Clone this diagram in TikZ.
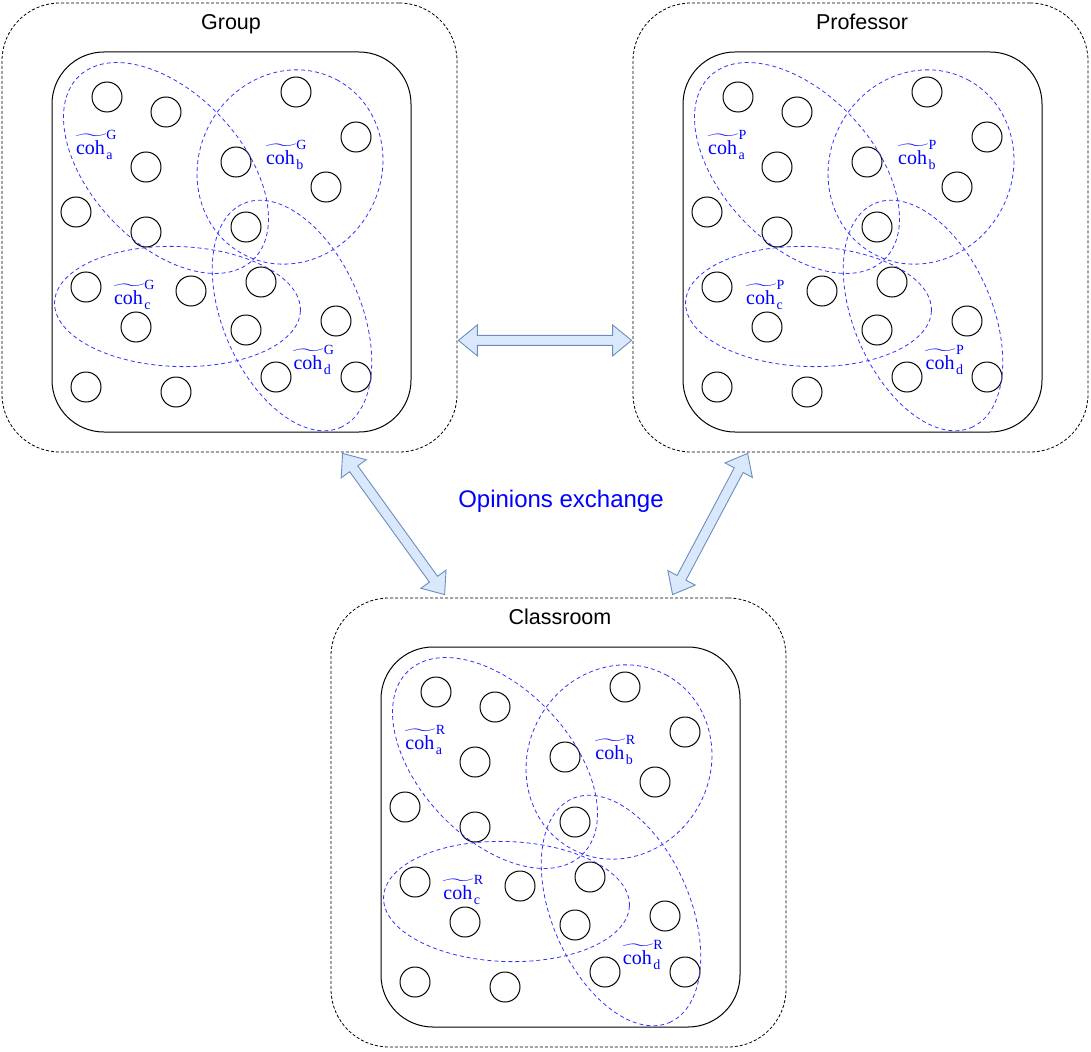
\RequirePackage{fix-cm}
\documentclass[tikz,border=0pt]{standalone}
\usepackage{amsmath}
\usepackage{fontspec}
\setmainfont{Liberation Serif}
\setsansfont{Liberation Sans}
\usetikzlibrary{calc}

\definecolor{cohblue}{rgb}{0.2,0.2,1}
\definecolor{swapfill}{HTML}{DAE8FC}
\definecolor{swapline}{HTML}{6C8EBF}

\tikzset{
    panel/.style={draw, dash pattern=on 3pt off 2pt, line width=0.8pt, rounded corners=58pt,
        minimum width=455pt, minimum height=449pt, inner sep=0pt},
    inbox/.style={draw, line width=1pt, rounded corners=52pt,
        minimum width=359pt, minimum height=380pt, inner sep=0pt},
    paneltitle/.style={font=\sffamily\fontsize{21.5}{26}\selectfont, anchor=base, inner sep=0pt},
    stud/.style={draw, line width=1pt},
    cohring/.style={draw=cohblue, line width=0.8pt, dash pattern=on 4pt off 3pt},
    cohlabel/.style={text=blue, font=\fontsize{20}{24}\selectfont, inner sep=0pt},
    swap/.style={fill=swapfill, draw=swapline, line width=0.9pt, line join=miter}
}

\newcommand\stud[2]{
    \draw[stud] (#1,-#2) circle (15pt);
}
\newcommand\cohset[5]{
    \draw[cohring, shift={(#1,-#2)}, rotate=#5] (0,0) ellipse [x radius=#3pt, y radius=#4pt];
}
\newcommand\cohtext[2]{$\widetilde{\text{coh\kern1.5pt}}^{\hbox{\fontsize{14}{14}\selectfont #1}}_{\hbox{\fontsize{14}{14}\selectfont #2}}$}
\newcommand\swaparrow[2]{
    \filldraw[swap]
        (#1) -- ($(#1)!19pt!(#2)!15.5pt!90:(#2)$)
        -- ($(#1)!19pt!(#2)!5pt!90:(#2)$)
        -- ($(#2)!19pt!(#1)!5pt!-90:(#1)$)
        -- ($(#2)!19pt!(#1)!15.5pt!-90:(#1)$)
        -- (#2)
        -- ($(#2)!19pt!(#1)!15.5pt!90:(#1)$)
        -- ($(#2)!19pt!(#1)!5pt!90:(#1)$)
        -- ($(#1)!19pt!(#2)!5pt!-90:(#2)$)
        -- ($(#1)!19pt!(#2)!15.5pt!-90:(#2)$)
        -- cycle;
}
% shift x, shift y, name, title, letter
\newcommand\cohpanel[5]{
    \begin{scope}[shift={(#1,-#2)}]
    \node[panel] (#3) at (229.5,-227.5) {};
    \node[paneltitle] (#3-title) at (231,-29.5) {#4};
    \node[inbox] (#3-in) at (231.5,-242) {};

    \stud{107}{97}
    \stud{166}{112}
    \stud{296}{92}
    \stud{356}{137}
    \stud{146}{167}
    \stud{236}{162}
    \stud{326}{187}
    \stud{76}{212}
    \stud{146}{232}
    \stud{246}{227}
    \stud{86}{287}
    \stud{191}{291}
    \stud{261}{282}
    \stud{136}{327}
    \stud{246}{330}
    \stud{336}{321}
    \stud{86}{387}
    \stud{176}{392}
    \stud{276}{377}
    \stud{356}{377}

    \cohset{166}{168}{126.5}{75}{-46.7}
    \cohset{290}{167}{99}{91}{60.8}
    \cohset{177.5}{306.5}{123}{60}{-2}
    \cohset{292}{315.5}{122}{69}{-66.6}

    \node[cohlabel] (#3-a) at (96.5,-145) {\cohtext{#5}{a}};
    \node[cohlabel] (#3-b) at (286.5,-155) {\cohtext{#5}{b}};
    \node[cohlabel] (#3-c) at (134.5,-295) {\cohtext{#5}{c}};
    \node[cohlabel] (#3-d) at (314,-360) {\cohtext{#5}{d}};
    \end{scope}
}

\begin{document}
\begin{tikzpicture}[x=1pt, y=1pt]
    \useasboundingbox (0,0) rectangle (1091,-1051);

    \cohpanel{0}{0}{group}{Group}{G}
    \cohpanel{631}{0}{prof}{Professor}{P}
    \cohpanel{329}{595}{class}{Classroom}{R}

    \coordinate (g-e) at ($(group.south east)+(1pt,112pt)$);
    \coordinate (p-w) at ($(prof.south west)+(-1pt,112pt)$);
    \coordinate (g-s) at ($(group.south west)+(341pt,-1pt)$);
    \coordinate (c-nw) at ($(class.north west)+(114pt,3pt)$);
    \coordinate (p-s) at ($(prof.south west)+(115pt,-1pt)$);
    \coordinate (c-ne) at ($(class.north west)+(342pt,3pt)$);

    \swaparrow{g-e}{p-w}
    \swaparrow{g-s}{c-nw}
    \swaparrow{p-s}{c-ne}

    \node[font=\sffamily\fontsize{24}{29}\selectfont, text=blue, anchor=base] (talk) at (561,-507) {Opinions exchange};

\end{tikzpicture}
\end{document}
